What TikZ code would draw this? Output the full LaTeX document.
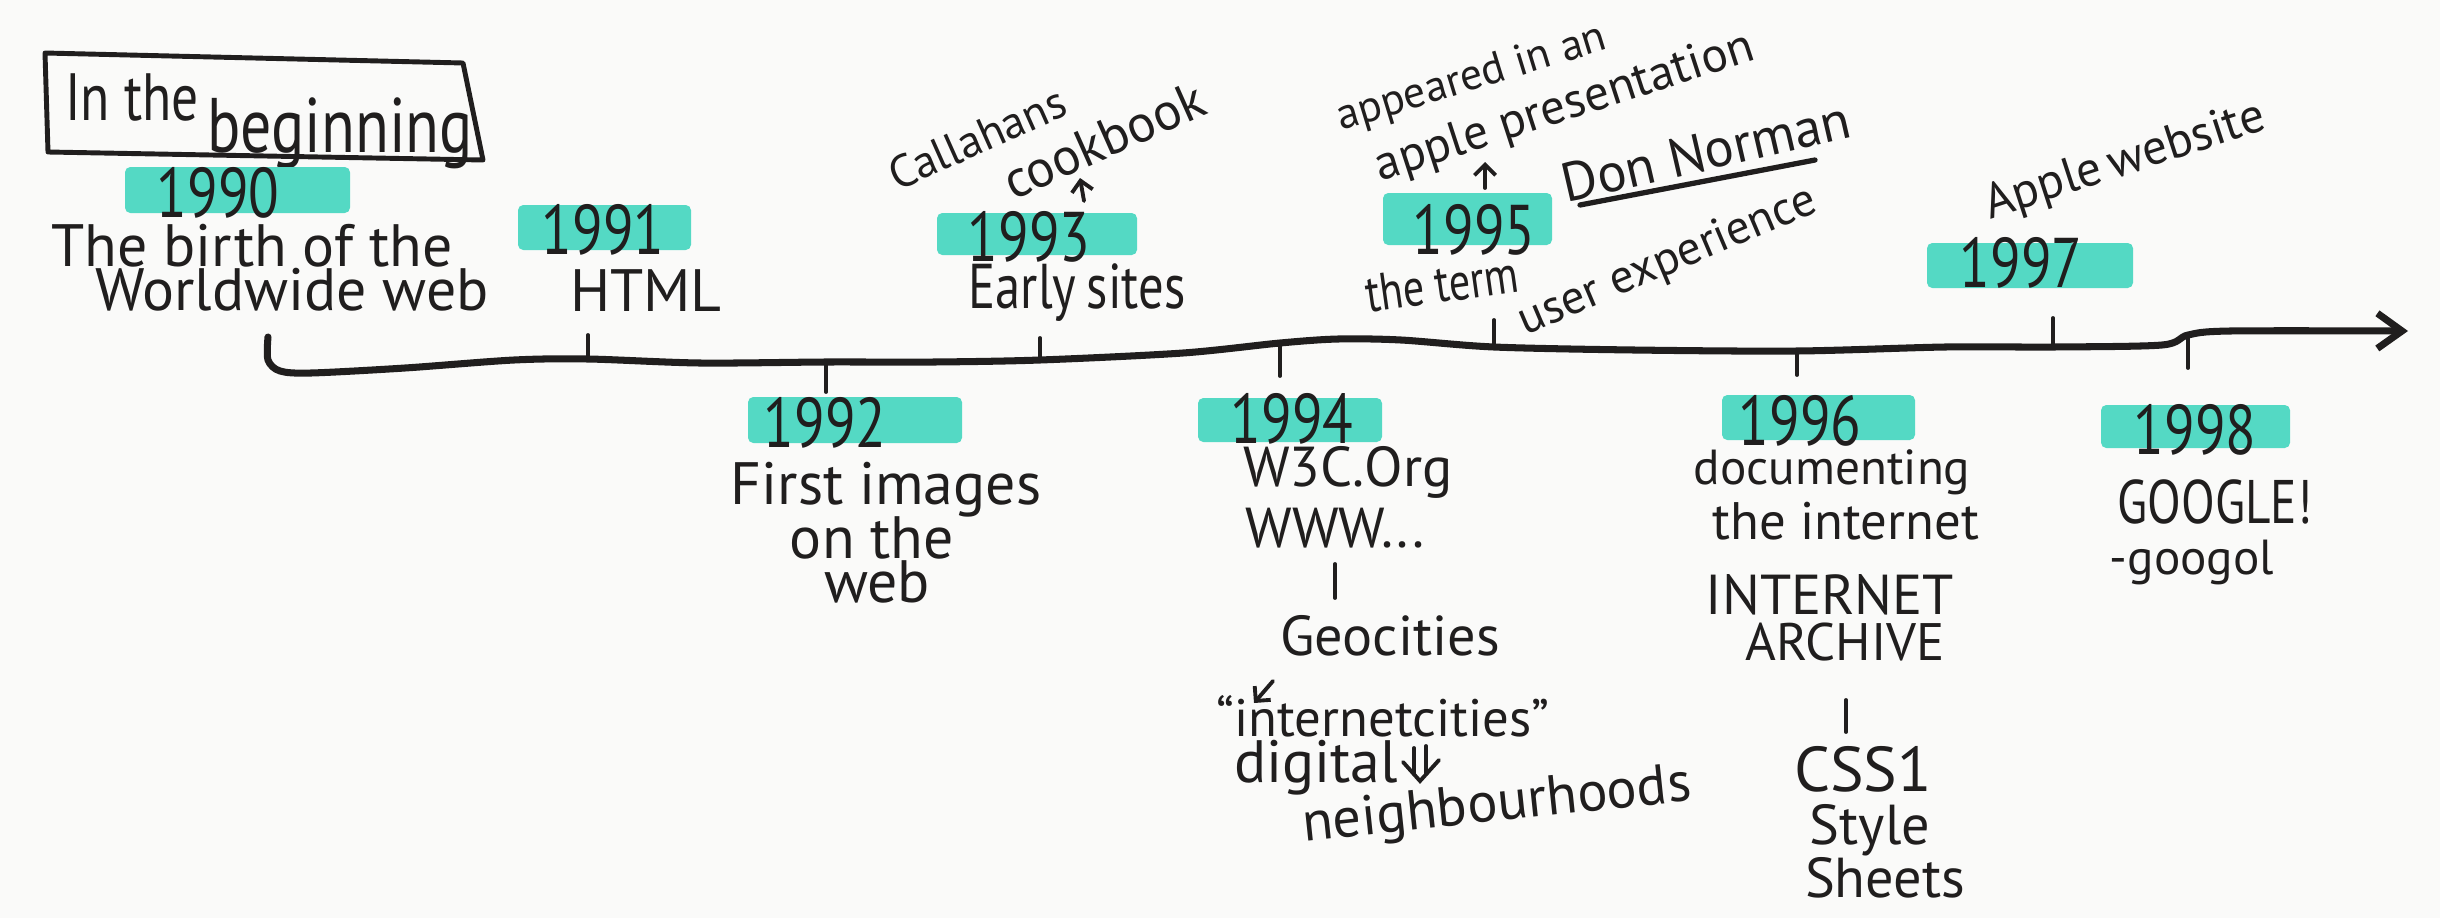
\documentclass[tikz,border=0pt]{standalone}
\usepackage{fontspec}
\setmainfont{PT Sans}
\newfontfamily\handn{PT Sans}[FakeStretch=0.8]
\usetikzlibrary{arrows.meta}
\definecolor{ink}{RGB}{32,30,30}
\definecolor{marker}{RGB}{84,217,196}
\definecolor{paper}{RGB}{250,250,249}
\newcommand\hsz[1]{\fontsize{#1}{#1}\selectfont}
\begin{document}
\begin{tikzpicture}[x=0.01cm,y=-0.01cm,
  hl/.style={fill=marker,draw=none,rounded corners=1.5pt},
  year/.style={font=\handn\hsz{20},text=ink,inner sep=0pt},
  lbl/.style={text=ink,inner sep=0pt},
  timeline/.style={draw=ink,line width=2pt,line cap=round,line join=round},
  tickline/.style={draw=ink,line width=1.1pt,line cap=round},
  frameline/.style={draw=ink,line width=1.4pt,line join=round},
  sarrow/.style={draw=ink,line width=1.1pt,line cap=round,-{Straight Barb[length=3pt,width=6pt]}}]
\useasboundingbox (0,0) rectangle (2440,918);
\fill[paper] (0,0) rectangle (2440,918);

% title frame
\draw[frameline] (45,53) -- (463,63) -- (483,160) -- (48,152) -- cycle;
\node[lbl,font=\handn\hsz{19}] (inthe) at (132,98) {In the};
\node[lbl,font=\handn\hsz{22}] (begin) at (340,133) {beginning};

% highlights
\fill[hl] (125,167) rectangle (350,213);
\fill[hl] (518,205) rectangle (691,250);
\fill[hl] (748,397) rectangle (962,443);
\fill[hl] (937,213) rectangle (1137,255);
\fill[hl] (1198,398) rectangle (1382,442);
\fill[hl] (1383,193) rectangle (1552,245);
\fill[hl] (1722,395) rectangle (1915,440);
\fill[hl] (1927,243) rectangle (2133,288);
\fill[hl] (2101,405) rectangle (2290,448);

% years
\node[year] (y1990) at (218,193) {1990};
\node[year] (y1991) at (603,230) {1991};
\node[year] (y1992) at (825,423) {1992};
\node[year] (y1993) at (1029,237) {1993};
\node[year] (y1994) at (1292,419) {1994};
\node[year] (y1995) at (1474,230) {1995};
\node[year] (y1996) at (1800,421) {1996};
\node[year] (y1997) at (2021,263) {1997};
\node[year] (y1998) at (2195,430) {1998};

% timeline
\coordinate (e1990) at (268,337);
\coordinate (t1991) at (588,359);  \coordinate (e1991) at (588,335);
\coordinate (t1992) at (826,362);  \coordinate (e1992) at (826,392);
\coordinate (t1993) at (1040,360); \coordinate (e1993) at (1040,338);
\coordinate (t1994) at (1280,343); \coordinate (e1994) at (1280,376);
\coordinate (t1995) at (1494,347); \coordinate (e1995) at (1494,320);
\coordinate (t1996) at (1797,351); \coordinate (e1996) at (1797,375);
\coordinate (t1997) at (2053,347); \coordinate (e1997) at (2053,318);
\coordinate (t1998) at (2188,335); \coordinate (e1998) at (2188,368);
\coordinate (tip) at (2408,331);
\draw[timeline,-{Straight Barb[length=7pt,width=10pt]}] plot[smooth,tension=0.5] coordinates {(e1990) (268,360) (280,371) (311,373) (405,368) (514,360) (t1991) (700,363) (t1992) (934,362) (t1993) (1183,353) (t1994) (1338,339) (1401,340) (t1995) (1634,350) (t1996) (1945,347) (t1997) (2162,345) (t1998) (2230,331) (tip)};
\draw[tickline] (t1991) -- (e1991);
\draw[tickline] (t1992) -- (e1992);
\draw[tickline] (t1993) -- (e1993);
\draw[tickline] (t1994) -- (e1994);
\draw[tickline] (t1995) -- (e1995);
\draw[tickline] (t1996) -- (e1996);
\draw[tickline] (t1997) -- (e1997);
\draw[tickline] (t1998) -- (e1998);

% upper labels
\node[lbl,font=\hsz{17}] (birth1) at (252,246) {The birth of the};
\node[lbl,font=\hsz{17}] (birth2) at (292,290) {Worldwide web};
\node[lbl,font=\hsz{17}] (html) at (646,291) {HTML};
\node[lbl,font=\handn\hsz{18}] (early) at (1077,293) {Early\,sites};
\node[lbl,font=\hsz{13},rotate=24] (calla) at (977,138) {Callahans};
\node[lbl,font=\hsz{15},rotate=24] (cook) at (1104,140) {cookbook};
\coordinate (a93s) at (1084,201); \coordinate (a93e) at (1080,178);
\draw[sarrow] (a93s) -- (a93e);
\node[lbl,font=\hsz{12.5},rotate=17] (appeared) at (1472,79) {appeared in an};
\node[lbl,font=\hsz{14},rotate=18] (applep) at (1565,108) {apple presentation};
\coordinate (a95s) at (1485,188); \coordinate (a95e) at (1485,162);
\draw[sarrow] (a95s) -- (a95e);
\node[lbl,font=\hsz{15.5},rotate=13] (don) at (1706,151) {Don Norman};
\coordinate (u1) at (1580,205); \coordinate (u2) at (1815,160);
\draw[draw=ink,line width=1.5pt,line cap=round] (u1) -- (u2);
\node[lbl,font=\handn\hsz{15},rotate=8] (term) at (1442,284) {the term};
\node[lbl,font=\hsz{13.5},rotate=23] (ux) at (1668,262) {user experience};
\node[lbl,font=\hsz{14},rotate=18] (applew) at (2125,162) {Apple\,website};

% lower labels
\node[lbl,font=\hsz{17}] (img1) at (886,490) {First images};
\node[lbl,font=\hsz{17}] (img2) at (872,538) {on the};
\node[lbl,font=\hsz{17}] (img3) at (877,582) {web};

\node[lbl,font=\hsz{16}] (w3c) at (1348,472) {W3C.Org};
\node[lbl,font=\hsz{16}] (www) at (1335,528) {WWW...};
\coordinate (k1) at (1335,564); \coordinate (k2) at (1335,598);
\draw[tickline] (k1) -- (k2);
\node[lbl,font=\hsz{16}] (geo) at (1390,636) {Geocities};
\coordinate (g1) at (1273,681); \coordinate (g2) at (1254,703);
\draw[sarrow] (g1) -- (g2);
\node[lbl,font=\hsz{15}] (icity) at (1383,716) {“internetcities”};
\node[lbl,font=\hsz{17}] (digital) at (1316,768) {digital};
\draw[tickline] (1414,748) -- (1414,774);
\draw[tickline] (1426,746) -- (1426,774);
\draw[tickline] (1403,762) -- (1420,781) -- (1439,760);
\node[lbl,font=\hsz{16},rotate=6] (neigh) at (1497,807) {neighbourhoods};

\node[lbl,font=\hsz{14}] (doc) at (1832,472) {documenting};
\node[lbl,font=\hsz{15}] (theint) at (1846,521) {the internet};
\node[lbl,font=\hsz{16}] (inet) at (1830,595) {INTERNET};
\node[lbl,font=\hsz{15}] (arch) at (1845,642) {ARCHIVE};
\coordinate (c1) at (1846,700); \coordinate (c2) at (1846,732);
\draw[tickline] (c1) -- (c2);
\node[lbl,font=\hsz{18}] (css) at (1863,769) {CSS1};
\node[lbl,font=\hsz{16}] (style) at (1870,830) {Style};
\node[lbl,font=\hsz{16}] (sheets) at (1885,878) {Sheets};

\node[lbl,font=\handn\hsz{17.5}] (google) at (2215,502) {GOOGLE!};
\node[lbl,font=\hsz{14}] (googol) at (2192,562) {-googol};
\end{tikzpicture}
\end{document}
